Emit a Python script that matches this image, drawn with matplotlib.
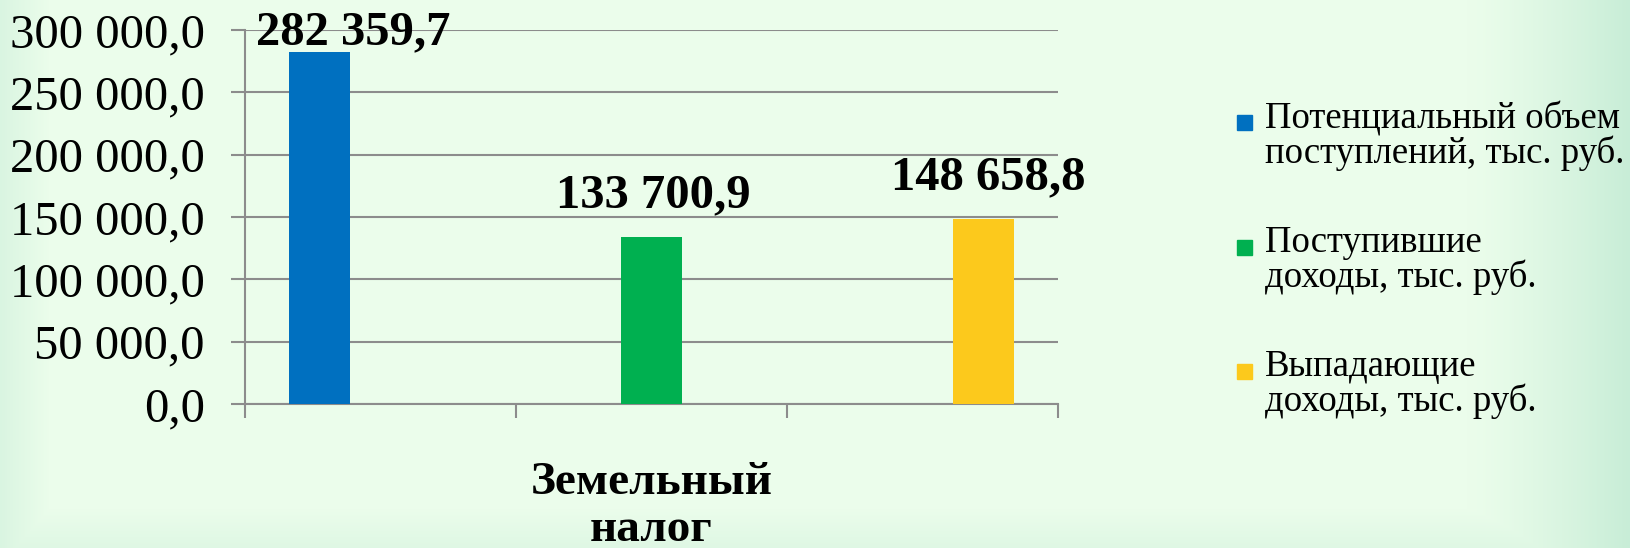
import numpy as np
import matplotlib
matplotlib.use("Agg")
import matplotlib.pyplot as plt
from matplotlib.patches import Rectangle

# данные
category = "Земельный\nналог"
series = ["Потенциальный объем\nпоступлений, тыс. руб.",
          "Поступившие\nдоходы, тыс. руб.",
          "Выпадающие\nдоходы, тыс. руб."]
values = [282359.7, 133700.9, 148658.8]
colors = ["#0070C0", "#00B050", "#FCC91C"]
yticks = [0, 50000, 100000, 150000, 200000, 250000, 300000]


def fmt(v):
    s = "{:,.1f}".format(v)
    return s.replace(",", " ").replace(".", ",")


plt.rcParams["font.family"] = ["Liberation Serif", "DejaVu Serif"]

W, H = 1630, 548
fig = plt.figure(figsize=(W / 100, H / 100), dpi=100)

# фон с градиентом
xs = np.linspace(0, 1, W)
ys = np.linspace(0, 1, H)
base = np.array([235, 253, 235]) / 255
edge = np.array([200, 237, 215]) / 255
wr = np.clip((xs - 0.90) / 0.10, 0, 1) ** 1.3
wl = np.clip((0.03 - xs) / 0.03, 0, 1) * 0.5
wb = np.clip((ys - 0.93) / 0.07, 0, 1) * 0.35
w = np.maximum(np.maximum(wr, wl)[None, :], wb[:, None])
img = base[None, None, :] * (1 - w[..., None]) + edge[None, None, :] * w[..., None]
bg = fig.add_axes([0, 0, 1, 1], zorder=-1)
bg.imshow(img, aspect="auto", extent=[0, 1, 0, 1])
bg.axis("off")

left, right, top, bottom = 245, 1058, 30, 404
ax = fig.add_axes([left / W, 1 - bottom / H, (right - left) / W, (bottom - top) / H])
ax.patch.set_alpha(0)

x = np.arange(len(values))
ax.bar(x, values, width=0.184, color=colors, zorder=3)

ax.set_xlim(-0.226, 2.226)
ax.set_ylim(0, 300000)
ax.set_yticks(yticks)
ax.set_yticklabels([fmt(v) for v in yticks], fontsize=35)
ax.grid(axis="y", color="#8C8C8C", linewidth=1.5, zorder=0)

ax.set_xticks([1])
ax.set_xticklabels([category], fontsize=34, fontweight="bold", linespacing=1.15)
ax.set_xticks(np.linspace(-0.226, 2.226, 4), minor=True)
ax.tick_params(axis="x", which="major", length=0, pad=42)
ax.tick_params(axis="x", which="minor", length=10, width=1.5, color="#8C8C8C", direction="out")
ax.tick_params(axis="y", length=10, width=1.5, color="#8C8C8C", direction="out", pad=19)

for s in ["top", "right"]:
    ax.spines[s].set_visible(False)
for s in ["left", "bottom"]:
    ax.spines[s].set_color("#8C8C8C")
    ax.spines[s].set_linewidth(1.5)

offsets = [(24, 14), (1, 30), (4, 30)]
for xi, v, off in zip(x, values, offsets):
    ax.annotate(fmt(v), (xi, v), xytext=off, textcoords="offset points",
                ha="center", va="center", fontsize=35, fontweight="bold",
                annotation_clip=False, zorder=5)

# легенда
ly0 = 122
for i, (name, c) in enumerate(zip(series, colors)):
    yc = ly0 + i * 124.5
    fig.patches.append(Rectangle((1237 / W, 1 - (yc + 8) / H), 15 / W, 15 / H,
                                 transform=fig.transFigure, color=c))
    fig.text(1265 / W, 1 - (yc - 21) / H, name, fontsize=26.5, va="top", ha="left",
             linespacing=0.97)

fig.savefig("out.png", dpi=100)
